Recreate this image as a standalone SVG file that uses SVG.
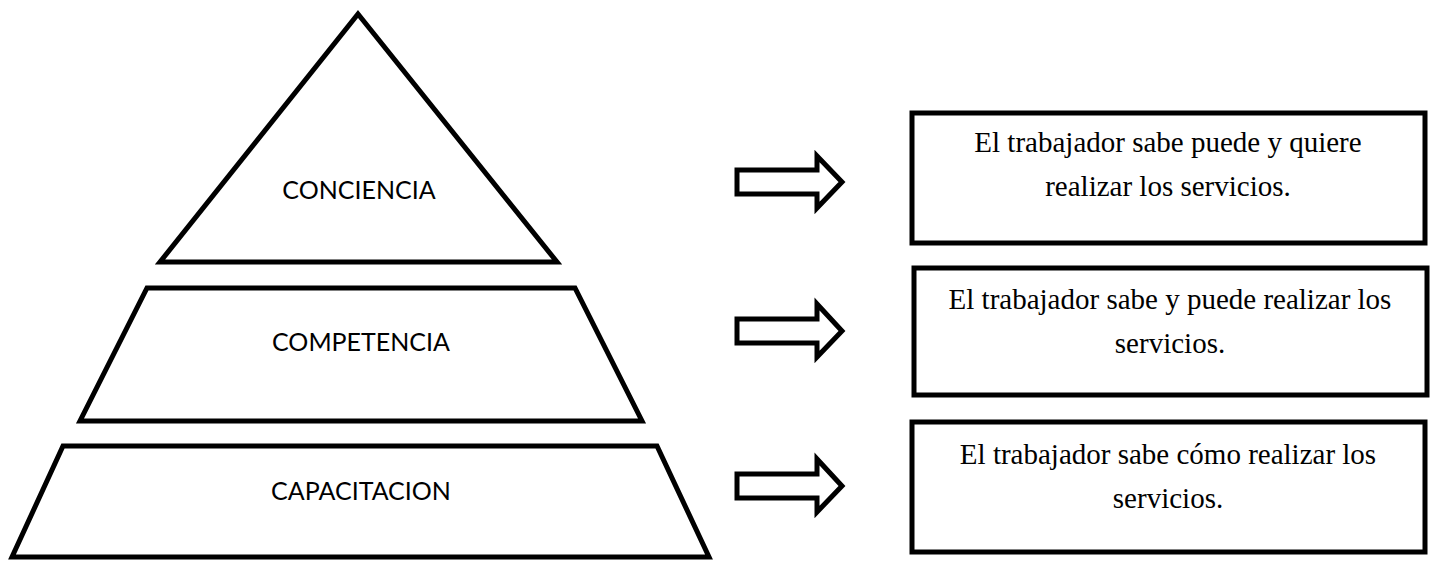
<svg xmlns="http://www.w3.org/2000/svg" width="1432" height="564" viewBox="0 0 1432 564">
  <style>
    .shape { fill: #ffffff; stroke: #000000; stroke-width: 5; stroke-linejoin: miter; }
    .arrow { fill: #ffffff; stroke: #000000; stroke-width: 5; stroke-linejoin: miter; }
    .level { font-family: Lato, "Open Sans", sans-serif; font-size: 25px; fill: #000000; text-anchor: middle; }
    .desc { font-family: "Liberation Serif", "Times New Roman", serif; font-size: 29px; fill: #000000; text-anchor: middle; }
  </style>
  <rect width="1432" height="564" fill="#ffffff"/>

  <!-- Pyramid levels -->
  <g id="nivel-conciencia">
    <polygon class="shape" points="358,14 557,262 160,262"/>
    <text class="level" x="359" y="199">CONCIENCIA</text>
  </g>
  <g id="nivel-competencia">
    <polygon class="shape" points="147,288 575,288 642,421 80,421"/>
    <text class="level" x="361" y="351">COMPETENCIA</text>
  </g>
  <g id="nivel-capacitacion">
    <polygon class="shape" points="63,446 657,446 709,557 12,557"/>
    <text class="level" x="361" y="500">CAPACITACION</text>
  </g>

  <!-- Block arrows linking each level to its description -->
  <g id="conectores">
    <polygon class="arrow" points="737,170 817,170 817,156 842,182 817,208 817,194 737,194"/>
    <polygon class="arrow" points="737,319 817,319 817,304 842,331 817,357 817,343 737,343"/>
    <polygon class="arrow" points="737,474 817,474 817,459 842,486 817,512 817,498 737,498"/>
  </g>

  <!-- Descriptions -->
  <g id="desc-conciencia">
    <rect class="shape" x="912" y="113" width="513" height="130"/>
    <text class="desc" x="1168" y="152">El trabajador sabe puede y quiere</text>
    <text class="desc" x="1168" y="196">realizar los servicios.</text>
  </g>
  <g id="desc-competencia">
    <rect class="shape" x="914" y="268" width="513" height="127"/>
    <text class="desc" x="1170" y="309">El trabajador sabe y puede realizar los</text>
    <text class="desc" x="1170" y="353">servicios.</text>
  </g>
  <g id="desc-capacitacion">
    <rect class="shape" x="912" y="422" width="513" height="130"/>
    <text class="desc" x="1168" y="464">El trabajador sabe cómo realizar los</text>
    <text class="desc" x="1168" y="508">servicios.</text>
  </g>
</svg>
